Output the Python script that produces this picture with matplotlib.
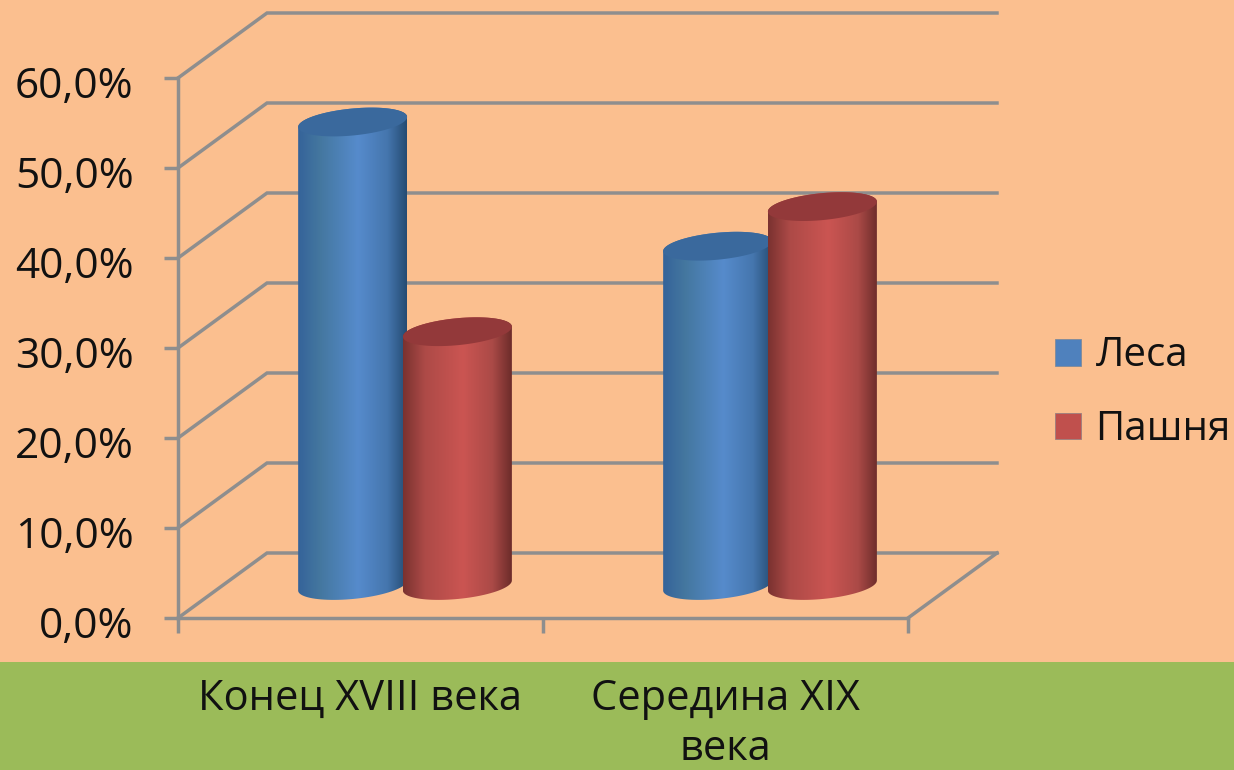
import numpy as np
import matplotlib
matplotlib.use('Agg')
from matplotlib import pyplot as plt
from matplotlib.colors import LinearSegmentedColormap
from matplotlib.patches import PathPatch, Patch, Rectangle
from matplotlib.path import Path
from matplotlib.transforms import ScaledTranslation

categories = ['Конец XVIII века', 'Середина XIX\nвека']
series = ['Леса', 'Пашня']
forest = [51.5, 37.7]
fields = [28.2, 42.1]
yticks = [0, 10, 20, 30, 40, 50, 60]

W, H = 1234, 770
GRID = '#8e8e8e'
plt.rcParams['font.family'] = ['Open Sans', 'DejaVu Sans']

fig = plt.figure(figsize=(W / 100, H / 100), dpi=100, facecolor='#fbbf8f')
fig.patches.append(Rectangle((0, 0), 1, 108 / H, transform=fig.transFigure,
                             facecolor='#9bbb59', edgecolor='none', zorder=-1))

# front wall of the 3d box is the axes itself
ax = fig.add_axes([178 / W, 1 - 618 / H, 730 / W, 540 / H])
ax.patch.set_alpha(0)
ax.set_xlim(0, 2)
ax.set_ylim(0, 60)

# depth of the box in data units
dx = 89 / 365
dy = 65 / 9

for v in yticks:
    ax.plot([0, dx, 2 + dx], [v, v + dy, v + dy], color=GRID, lw=2.5,
            clip_on=False, zorder=1, solid_joinstyle='miter')
ax.plot([2, 2 + dx], [0, dy], color=GRID, lw=2.5, clip_on=False, zorder=1)

for s in ['top', 'right']:
    ax.spines[s].set_visible(False)
for s in ['left', 'bottom']:
    ax.spines[s].set_color(GRID)
    ax.spines[s].set_linewidth(2.5)

ax.set_yticks(yticks)
ax.yaxis.set_major_formatter(lambda v, pos: ('%.1f%%' % v).replace('.', ','))
ax.tick_params(axis='y', length=10, width=2.5, color=GRID, labelsize=30.5, pad=22,
               labelcolor='#111111')
for label in ax.get_yticklabels():
    label.set_transform(label.get_transform() + ScaledTranslation(0, -4 / 100, fig.dpi_scale_trans))
ax.set_xticks([0, 1, 2])
ax.set_xticklabels([])
ax.tick_params(axis='x', which='major', length=11, width=2.5, color=GRID)
ax.set_xticks([0.5, 1.5], labels=categories, minor=True)
ax.tick_params(axis='x', which='minor', length=0, labelsize=30, pad=43,
               labelcolor='#111111')
for label in ax.get_xticklabels(minor=True):
    label.set_linespacing(1.25)

blues = LinearSegmentedColormap.from_list('b', [(0, '#35639a'), (0.2, '#44779f'), (0.55, '#568bcc'),
                                                (0.82, '#4576ae'), (1, '#254c73')])
reds = LinearSegmentedColormap.from_list('r', [(0, '#7a3230'), (0.2, '#ad4a47'), (0.55, '#cb5552'),
                                               (0.82, '#ab4a47'), (1, '#6c2c2a')])


def cylinder(cx, value, cmap, top_color):
    a = 54.5 / 365
    b = 13.5 / 9
    k = 5 / 9
    base = dy / 2
    top = base + value
    t = np.linspace(0, 2 * np.pi, 90)
    ex = a * np.cos(t)
    ey = b * np.sin(t) + k * np.cos(t)
    # body outline: lower half of the base, then back over the top ellipse
    lower = t[45:]
    bx = cx + a * np.cos(lower)
    by = base + b * np.sin(lower) + k * np.cos(lower)
    upper = t[:45]
    ux = cx + a * np.cos(upper)
    uy = top + b * np.sin(upper) + k * np.cos(upper)
    pts = np.vstack([np.column_stack([bx, by]), np.column_stack([ux, uy]), [[bx[0], by[0]]]])
    body = PathPatch(Path(pts), transform=ax.transData, facecolor='none', edgecolor='none')
    ax.add_patch(body)
    grad = np.linspace(0, 1, 256).reshape(1, -1)
    im = ax.imshow(grad, cmap=cmap, extent=[cx - a, cx + a, base - 3, top + 3], aspect='auto', zorder=3)
    im.set_clip_path(body)
    ax.fill(cx + ex, top + ey, color=top_color, zorder=3, clip_on=False, lw=0)


for i in range(2):
    center = i + 0.5 + dx / 2
    cylinder(center - 0.1435, forest[i], blues, '#3a699d')
    cylinder(center + 0.1435, fields[i], reds, '#93393a')

ax.set_xlim(0, 2)
ax.set_ylim(0, 60)

handles = [Patch(facecolor='#4f81bd', edgecolor='#7f8a9a', lw=0.6),
           Patch(facecolor='#c0504d', edgecolor='#9a7f7f', lw=0.6)]
fig.legend(handles, series, loc='center left', bbox_to_anchor=(1035 / W, 1 - 393 / H),
           frameon=False, fontsize=29, handlelength=0.64, handleheight=0.64,
           handletextpad=0.36, labelspacing=0.82, borderpad=0, labelcolor='#111111')

fig.savefig('out.png', dpi=100)
